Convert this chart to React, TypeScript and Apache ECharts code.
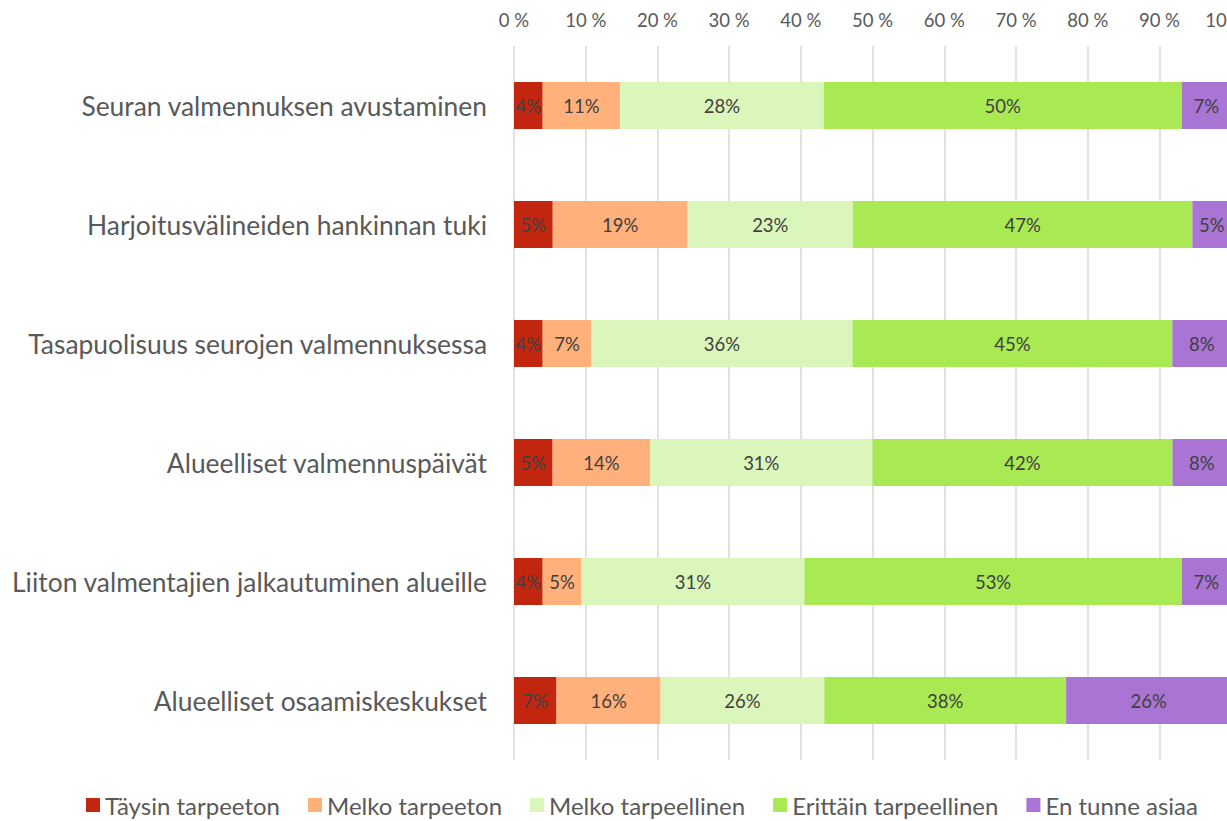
import React, { useEffect, useRef } from "react";
import * as echarts from "echarts";

const categories = [
  "Seuran valmennuksen avustaminen",
  "Harjoitusvälineiden hankinnan tuki",
  "Tasapuolisuus seurojen valmennuksessa",
  "Alueelliset valmennuspäivät",
  "Liiton valmentajien jalkautuminen alueille",
  "Alueelliset osaamiskeskukset",
];

const seriesNames = [
  "Täysin tarpeeton",
  "Melko tarpeeton",
  "Melko tarpeellinen",
  "Erittäin tarpeellinen",
  "En tunne asiaa",
];

// Shares (%) per answer option, one value per category
const taysinTarpeeton = [4.0, 5.4, 4.0, 5.4, 4.0, 6.7];
const melkoTarpeeton = [10.8, 18.8, 6.8, 13.6, 5.4, 16.4];
const melkoTarpeellinen = [28.4, 23.0, 36.4, 31.1, 31.1, 25.8];
const erittainTarpeellinen = [49.9, 47.3, 44.6, 41.9, 52.6, 38.1];
const enTunneAsiaa = [6.9, 5.4, 8.2, 8.2, 6.9, 26.0];

const seriesValues = [
  taysinTarpeeton,
  melkoTarpeeton,
  melkoTarpeellinen,
  erittainTarpeellinen,
  enTunneAsiaa,
];

const colors = ["#C3260E", "#FFB07B", "#DAF6BB", "#A9E953", "#A974D4"];

const FONT = "Lato, 'Open Sans', sans-serif";

export default function App() {
  const ref = useRef<HTMLDivElement>(null);

  useEffect(() => {
    if (!ref.current) return;
    const chart = echarts.init(ref.current, undefined, { renderer: "svg" });

    const rowSums = categories.map((_, i) =>
      seriesValues.reduce((s, arr) => s + arr[i], 0)
    );

    const series = seriesNames.map((name, si) => ({
      name,
      type: "bar",
      stack: "total",
      barWidth: 47,
      itemStyle: { color: colors[si] },
      label: {
        show: true,
        position: "inside",
        color: "#404040",
        fontSize: 18.5,
        fontFamily: FONT,
        formatter: (p: any) => Math.round(seriesValues[si][p.dataIndex]) + "%",
      },
      data: seriesValues[si].map((v, i) => (v / rowSums[i]) * 100),
    }));

    chart.setOption({
      animation: false,
      textStyle: { fontFamily: FONT },
      legend: {
        data: seriesNames,
        left: 86,
        top: 793,
        padding: 0,
        icon: "rect",
        itemWidth: 14,
        itemHeight: 14,
        itemGap: 28,
        textStyle: { color: "#595959", fontSize: 24, fontFamily: FONT },
      },
      grid: {
        left: 514,
        right: 24,
        top: 46,
        bottom: 61,
        containLabel: false,
      },
      xAxis: {
        type: "value",
        position: "top",
        min: 0,
        max: 100,
        interval: 10,
        axisLine: { show: false },
        axisTick: { show: false },
        axisLabel: {
          formatter: "{value} %",
          color: "#595959",
          fontSize: 18.5,
          fontFamily: FONT,
          margin: 17,
        },
        splitLine: { show: true, lineStyle: { color: "#D9D9D9", width: 1.5 } },
      },
      yAxis: {
        type: "category",
        data: categories,
        inverse: true,
        axisLine: { show: false },
        axisTick: { show: false },
        axisLabel: {
          color: "#595959",
          fontSize: 26.4,
          fontFamily: FONT,
          margin: 27,
        },
      },
      series,
    });

    return () => chart.dispose();
  }, []);

  return (
    <div
      style={{
        position: "fixed",
        left: 0,
        top: 0,
        width: 1227,
        height: 821,
        overflow: "hidden",
        background: "#ffffff",
      }}
    >
      <div ref={ref} style={{ width: 1260, height: 821 }} />
    </div>
  );
}
